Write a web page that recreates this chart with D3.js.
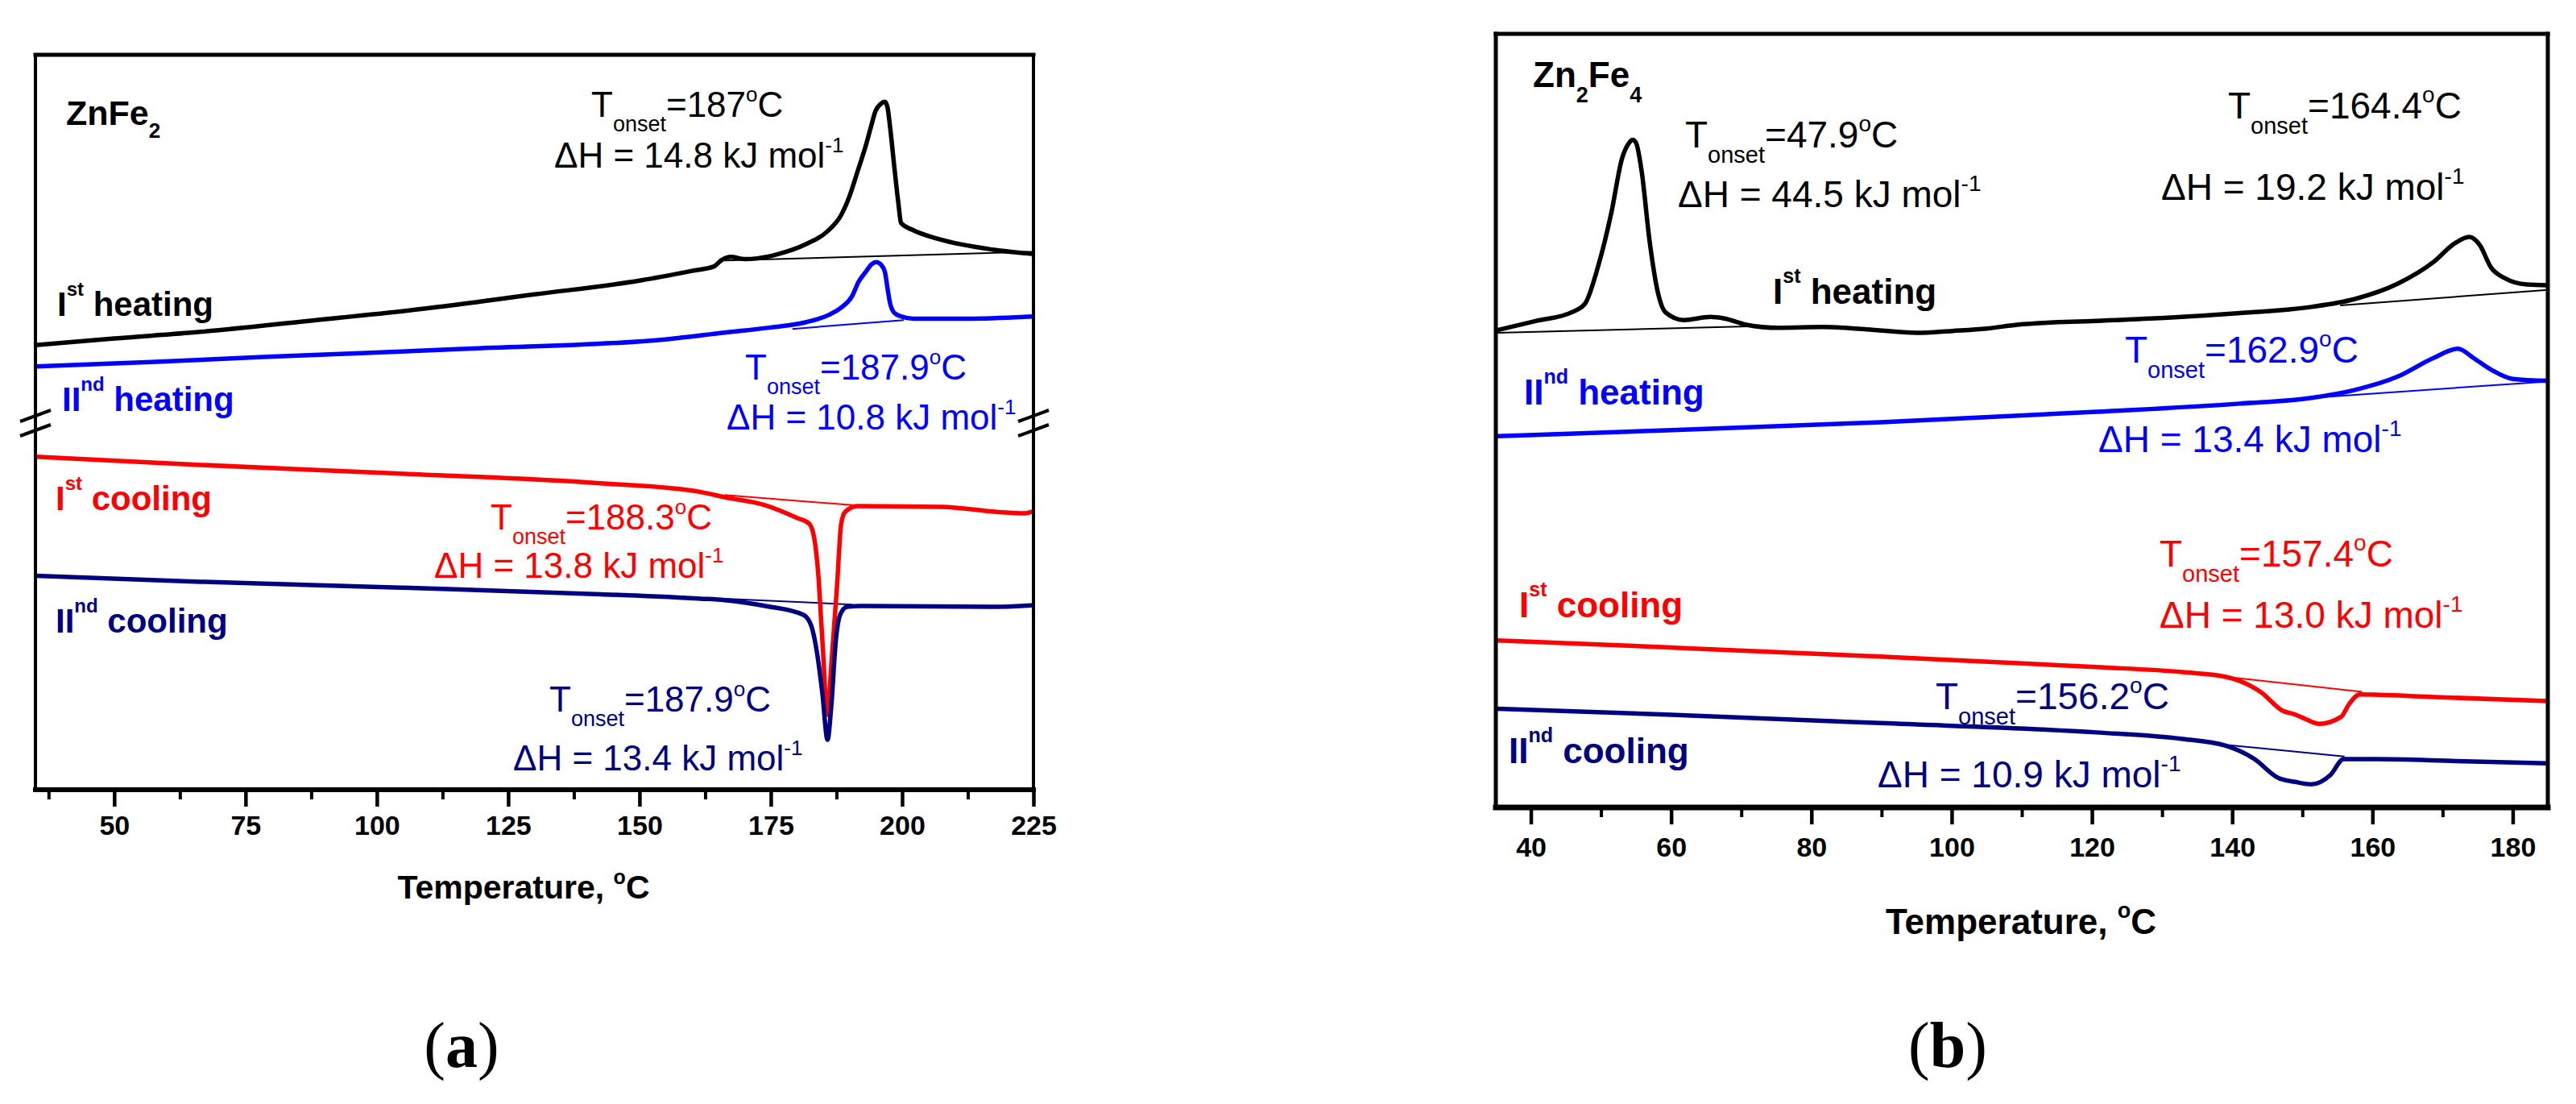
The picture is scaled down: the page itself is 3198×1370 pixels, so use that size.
<!DOCTYPE html>
<html><head><meta charset="utf-8">
<script src="https://cdn.jsdelivr.net/npm/d3@7"></script>
<style>html,body{margin:0;padding:0;background:#fff}svg{display:block}</style>
</head><body>
<script>
// ---------------- DATA ----------------
// Panel (a) ZnFe2 : x = temperature (°C), y = heat flow (arbitrary units, offset curves)
const aTicksMajor = [50, 75, 100, 125, 150, 175, 200, 225];
const aTicksMinor = [37.5, 62.5, 87.5, 112.5, 137.5, 162.5, 187.5, 212.5];
const bTicksMajor = [40, 60, 80, 100, 120, 140, 160, 180];
const bTicksMinor = [50, 70, 90, 110, 130, 150, 170];

const aHeat1 = [[35,60.5],[50,61.4],[66.4,62.3],[87,63.8],[108.3,65.4],[130,67.4],[150.2,69.3],[160,70.6],[164.2,71.2],[165.5,72.0],[167.4,72.5],[170,72.2],[172.4,72.3],[176.5,72.9],[181.6,74.2],[185.8,76.0],[188.4,78.2],[190.0,80.8],[191.5,84.1],[193.1,87.7],[194.1,90.3],[194.9,92.3],[195.9,93.3],[196.7,93.6],[197.2,92.9],[197.7,90.2],[198.5,84.8],[199.3,79.7],[199.8,77.1],[201.9,76.2],[207.1,74.9],[217.2,73.5],[225,72.9]];
const aHeat1Base = [[166.2,72.0],[225,73.2]];
const aHeat2 = [[35,57.6],[57,58.2],[79.1,58.9],[117.2,60.0],[155.3,61.3],[166.2,62.2],[175,62.9],[181.6,63.6],[186,64.6],[188.2,65.5],[190.5,67.2],[191.7,69.1],[193.1,70.5],[194.2,71.5],[195.1,71.8],[195.9,71.5],[196.7,70.5],[197.2,68.3],[197.7,66.2],[198.5,64.9],[199.8,64.4],[202.1,64.1],[212.4,64.1],[225,64.4]];
const aHeat2Base = [[179.1,62.7],[200.3,63.9]];
const aCool1 = [[35,45.3],[66.4,44.2],[104.5,43.0],[142.6,41.7],[161.7,40.5],[166.2,39.8],[174.0,38.7],[180.1,36.95],[182.3,36.2],[183.25,34.3],[184.0,29.6],[184.8,20.5],[185.8,10.2],[186.5,16.8],[187.6,27.7],[188.4,36.2],[189.15,37.8],[191.5,38.6],[207.5,38.5],[218.0,37.8],[223.1,37.6],[225,37.9]];
const aCool1Base = [[166.2,40.1],[191.0,38.7]];
const aCool2 = [[35,29.1],[66.4,28.3],[104.5,27.5],[142.6,26.6],[161.7,26.0],[166.2,25.8],[174.0,25.0],[181.2,23.8],[182.7,22.3],[183.8,18.6],[184.8,13.2],[185.8,6.8],[186.5,11.3],[187.4,20.5],[188.2,23.8],[189.5,24.9],[192.1,25.0],[218,24.9],[225,25.1]];
const aCool2Base = [[166.2,26.0],[190.5,25.2]];

// Panel (b) Zn2Fe4
const bHeat1 = [[35.2,61.7],[40.8,62.9],[45.8,64.0],[47.7,65.1],[49.6,70.0],[51.5,77.0],[53.0,83.9],[54.0,85.9],[54.5,86.3],[55.0,85.9],[55.8,82.2],[56.9,73.4],[58.1,66.6],[59.2,64.0],[61.8,63.0],[65.6,63.4],[67.6,63.2],[70.7,62.4],[75.3,62.0],[81.8,62.1],[87.9,61.8],[95,61.35],[100.1,61.6],[105,61.9],[109.3,62.4],[120.6,62.9],[130.8,63.3],[141.1,63.9],[151.3,64.7],[157.4,65.7],[163.6,67.7],[168.7,70.5],[171.7,72.9],[173.8,73.75],[175.3,72.7],[176.9,69.8],[178.9,68.4],[182,67.6],[185,67.5]];
const bHeat1BaseA = [[35.2,61.35],[71,62.2]];
const bHeat1BaseB = [[155.4,64.9],[185,66.9]];
const bHeat2 = [[35.2,48.0],[59.3,48.75],[89.9,49.8],[120.6,51.15],[141.1,52.2],[151.3,52.95],[157.4,53.95],[163.6,55.7],[168.7,58.1],[172.2,59.3],[174.4,58.1],[176.9,56.6],[180,55.4],[185,55.15]];
const bHeat2Base = [[151.3,52.95],[185,55.06]];
const bCool1 = [[35.2,21.6],[59.3,20.7],[89.9,19.5],[120.6,18.15],[132.9,17.5],[139,16.9],[144.1,14.9],[147.2,12.5],[149,12.0],[150.5,11.4],[152.4,10.8],[155.5,11.7],[156.7,13.4],[158.2,14.6],[168.1,14.3],[185,13.75]];
const bCool1Base = [[139,16.9],[158.5,14.95]];
const bCool2 = [[35.2,12.75],[59.3,12.0],[89.9,10.9],[120.6,9.7],[132.9,8.85],[139,8.0],[143.1,6.3],[146.6,3.8],[149,3.3],[151.3,3.0],[154,4.2],[155.9,6.25],[160.5,6.25],[172,6.0],[185,5.7]];
const bCool2Base = [[139,8.1],[156,6.6]];

// ---------------- DRAWING ----------------
const W = 3198, H = 1370;
const FONT = "'Liberation Sans', Arial, Helvetica, sans-serif";
const SERIF = "'Liberation Serif', 'Times New Roman', serif";
const C = {black:"#000000", blue:"#0000ff", red:"#ff0000", navy:"#000080"};

const svg = d3.select("body").append("svg").attr("width", W).attr("height", H)
  .attr("viewBox", `0 0 ${W} ${H}`);

function rich(g, x, y, parts, o) {
  const t = g.append("text").attr("x", x).attr("y", y)
    .attr("fill", o.color).attr("font-size", o.size)
    .attr("font-weight", o.weight || "normal").attr("font-family", FONT);
  let cur = 0;
  parts.forEach(p => {
    const s = p[0], kind = p[1] || "n";
    const ts = t.append("tspan").text(s);
    let target = 0;
    if (kind === "sub") { target = o.subDy; ts.attr("font-size", o.subSize); }
    else if (kind === "sup") { target = -o.supDy; ts.attr("font-size", o.supSize); }
    if (target !== cur) ts.attr("dy", target - cur);
    cur = target;
  });
  return t;
}

function panel(cfg) {
  const g = svg.append("g");
  const x = d3.scaleLinear().domain(cfg.xDomain).range([cfg.left, cfg.right]);
  const y = d3.scaleLinear().domain([0, 100]).range([cfg.bottom, cfg.top]);
  const line = d3.line().x(d => x(d[0])).y(d => y(d[1])).curve(d3.curveMonotoneX);
  const straight = d3.line().x(d => x(d[0])).y(d => y(d[1]));

  // baselines (thin)
  cfg.baselines.forEach(b => {
    g.append("path").attr("d", straight(b.data)).attr("fill", "none")
      .attr("stroke", b.color).attr("stroke-width", 2);
  });
  // curves
  cfg.series.forEach(s => {
    g.append("path").attr("d", line(s.data)).attr("fill", "none")
      .attr("stroke", s.color).attr("stroke-width", 5.5)
      .attr("stroke-linejoin", "round").attr("stroke-linecap", "butt");
  });

  // axis ticks
  const gMinor = g.append("g").attr("transform", `translate(0,${cfg.bottom})`)
    .call(d3.axisBottom(x).tickValues(cfg.minor).tickSize(cfg.minorLen).tickFormat(""));
  gMinor.select(".domain").remove();
  gMinor.selectAll(".tick line").attr("stroke", "#000").attr("stroke-width", 4);
  const gMajor = g.append("g").attr("transform", `translate(0,${cfg.bottom})`)
    .call(d3.axisBottom(x).tickValues(cfg.major).tickSize(cfg.majorLen).tickFormat(d3.format("d")));
  gMajor.select(".domain").remove();
  gMajor.selectAll(".tick line").attr("stroke", "#000").attr("stroke-width", 4.5);
  gMajor.selectAll(".tick text").attr("dy", null).attr("y", cfg.tickLabelY)
    .attr("font-size", cfg.tickSize).attr("font-weight", "bold")
    .attr("font-family", FONT).attr("fill", "#000");

  // frame
  const fr = g.append("g").attr("stroke", "#000").attr("stroke-linecap", "square");
  fr.append("line").attr("x1", cfg.left).attr("x2", cfg.right).attr("y1", cfg.top).attr("y2", cfg.top).attr("stroke-width", cfg.fw.top);
  fr.append("line").attr("x1", cfg.left).attr("x2", cfg.right).attr("y1", cfg.bottom).attr("y2", cfg.bottom).attr("stroke-width", cfg.fw.bottom);
  fr.append("line").attr("x1", cfg.left).attr("x2", cfg.left).attr("y1", cfg.top).attr("y2", cfg.bottom).attr("stroke-width", cfg.fw.side);
  fr.append("line").attr("x1", cfg.right).attr("x2", cfg.right).attr("y1", cfg.top).attr("y2", cfg.bottom).attr("stroke-width", cfg.fw.side);

  // axis title
  rich(g, cfg.titleX, cfg.titleY, [["Temperature, "], ["o", "sup"], ["C"]],
    {color: "#000", size: cfg.titleSize, weight: "bold", supSize: Math.round(cfg.titleSize * 0.62), supDy: Math.round(cfg.titleSize * 0.45)})
    .attr("text-anchor", "middle");

  // annotations
  cfg.texts.forEach(t => {
    rich(g, t.x, t.y, t.parts, t.style);
  });

  // panel letter
  const pl = g.append("text").attr("x", cfg.letterX).attr("y", cfg.letterY)
    .attr("text-anchor", "middle").attr("font-family", SERIF).attr("font-size", 80).attr("fill", "#000");
  pl.append("tspan").text("(");
  pl.append("tspan").text(cfg.letter).attr("font-weight", "bold");
  pl.append("tspan").text(")");
  return {g, x, y};
}

function annStyle(color, size) {
  return {color, size, weight: "normal", subSize: Math.round(size * 0.62), subDy: Math.round(size * 0.41),
          supSize: Math.round(size * 0.6), supDy: Math.round(size * 0.44)};
}
function labStyle(color, size) {
  return {color, size, weight: "bold", supSize: Math.round(size * 0.57), supDy: Math.round(size * 0.6)};
}
function onsetParts(v) { return [["T"], ["onset", "sub"], ["=" + v], ["o", "sup"], ["C"]]; }
function dhParts(v) { return [["\u0394H = " + v + " kJ mol"], ["-1", "sup"]]; }

const sA = 44, sB = 46, lA = 42, lB = 44;

// Panel (a)
const pa = panel({
  xDomain: [35, 225], left: 44, right: 1283, top: 68, bottom: 980,
  major: aTicksMajor, minor: aTicksMinor, majorLen: 21, minorLen: 12,
  tickLabelY: 56, tickSize: 34, fw: {top: 5, bottom: 6, side: 4},
  titleX: 650, titleY: 1115, titleSize: 41,
  letter: "a", letterX: 573, letterY: 1324,
  series: [
    {data: aHeat1, color: C.black}, {data: aHeat2, color: C.blue},
    {data: aCool1, color: C.red}, {data: aCool2, color: C.navy}],
  baselines: [
    {data: aHeat1Base, color: C.black}, {data: aHeat2Base, color: C.blue},
    {data: aCool1Base, color: C.red}, {data: aCool2Base, color: C.navy}],
  texts: [
    {x: 82, y: 155, parts: [["ZnFe"], ["2", "sub"]], style: {color: "#000", size: 43, weight: "bold", subSize: 26, subDy: 16}},
    {x: 734, y: 145, parts: onsetParts("187"), style: annStyle(C.black, sA)},
    {x: 688, y: 208, parts: dhParts("14.8"), style: annStyle(C.black, sA)},
    {x: 71, y: 392, parts: [["I"], ["st", "sup"], [" heating"]], style: labStyle(C.black, lA)},
    {x: 77, y: 510, parts: [["II"], ["nd", "sup"], [" heating"]], style: labStyle(C.blue, lA)},
    {x: 925, y: 471, parts: onsetParts("187.9"), style: annStyle(C.blue, sA)},
    {x: 902, y: 533, parts: dhParts("10.8"), style: annStyle(C.blue, sA)},
    {x: 69, y: 633, parts: [["I"], ["st", "sup"], [" cooling"]], style: labStyle(C.red, lA)},
    {x: 609, y: 657, parts: onsetParts("188.3"), style: annStyle(C.red, sA)},
    {x: 539, y: 717, parts: dhParts("13.8"), style: annStyle(C.red, sA)},
    {x: 69, y: 785, parts: [["II"], ["nd", "sup"], [" cooling"]], style: labStyle(C.navy, lA)},
    {x: 682, y: 883, parts: onsetParts("187.9"), style: annStyle(C.navy, sA)},
    {x: 637, y: 956, parts: dhParts("13.4"), style: annStyle(C.navy, sA)}
  ]
});

// axis-break marks on panel (a)
[44, 1283].forEach(ax => {
  [0, 18].forEach(off => {
    pa.g.append("line").attr("x1", ax - 19).attr("y1", 523 + off).attr("x2", ax + 19).attr("y2", 509 + off)
      .attr("stroke", "#000").attr("stroke-width", 4);
  });
});

// Panel (b)
panel({
  xDomain: [35, 185], left: 1857, right: 3163, top: 42, bottom: 1002,
  major: bTicksMajor, minor: bTicksMinor, majorLen: 21, minorLen: 12,
  tickLabelY: 61, tickSize: 34, fw: {top: 5, bottom: 7, side: 5},
  titleX: 2509, titleY: 1159, titleSize: 44,
  letter: "b", letterX: 2418, letterY: 1324,
  series: [
    {data: bHeat1, color: C.black}, {data: bHeat2, color: C.blue},
    {data: bCool1, color: C.red}, {data: bCool2, color: C.navy}],
  baselines: [
    {data: bHeat1BaseA, color: C.black}, {data: bHeat1BaseB, color: C.black},
    {data: bHeat2Base, color: C.blue}, {data: bCool1Base, color: C.red}, {data: bCool2Base, color: C.navy}],
  texts: [
    {x: 1903, y: 108, parts: [["Zn"], ["2", "sub"], ["Fe"], ["4", "sub"]], style: {color: "#000", size: 44, weight: "bold", subSize: 27, subDy: 19}},
    {x: 2092, y: 183, parts: onsetParts("47.9"), style: annStyle(C.black, sB)},
    {x: 2083, y: 257, parts: dhParts("44.5"), style: annStyle(C.black, sB)},
    {x: 2766, y: 147, parts: onsetParts("164.4"), style: annStyle(C.black, sB)},
    {x: 2683, y: 248, parts: dhParts("19.2"), style: annStyle(C.black, sB)},
    {x: 2201, y: 377, parts: [["I"], ["st", "sup"], [" heating"]], style: labStyle(C.black, lB)},
    {x: 1892, y: 502, parts: [["II"], ["nd", "sup"], [" heating"]], style: labStyle(C.blue, lB)},
    {x: 2638, y: 450, parts: onsetParts("162.9"), style: annStyle(C.blue, sB)},
    {x: 2605, y: 561, parts: dhParts("13.4"), style: annStyle(C.blue, sB)},
    {x: 2681, y: 703, parts: onsetParts("157.4"), style: annStyle(C.red, sB)},
    {x: 2681, y: 779, parts: dhParts("13.0"), style: annStyle(C.red, sB)},
    {x: 1886, y: 766, parts: [["I"], ["st", "sup"], [" cooling"]], style: labStyle(C.red, lB)},
    {x: 2403, y: 880, parts: onsetParts("156.2"), style: annStyle(C.navy, sB)},
    {x: 2331, y: 977, parts: dhParts("10.9"), style: annStyle(C.navy, sB)},
    {x: 1873, y: 947, parts: [["II"], ["nd", "sup"], [" cooling"]], style: labStyle(C.navy, lB)}
  ]
});
</script>
</body></html>
